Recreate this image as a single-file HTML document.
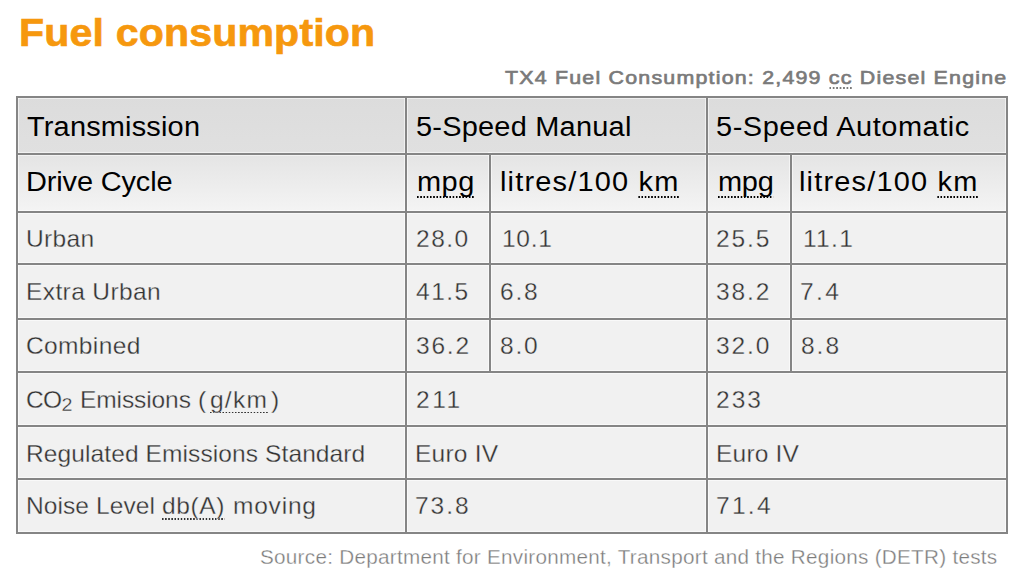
<!DOCTYPE html>
<html><head><meta charset="utf-8"><style>
html,body{margin:0;padding:0;background:#fff;width:1024px;height:582px;overflow:hidden;position:relative;font-family:"Liberation Sans",sans-serif;}
.t{position:absolute;white-space:nowrap;line-height:1;transform-origin:0 0;}
.ttl{color:#f6980e;font-weight:bold;-webkit-text-stroke:0.7px #f6980e;}
.sub{color:#7a7a7a;font-weight:normal;-webkit-text-stroke:0.65px #7a7a7a;}
.h{color:#000;}
.d{color:#333;-webkit-text-stroke:0.3px #f1f1f1;}
.src{color:#7c7c7c;-webkit-text-stroke:0.3px #fff;}
.bg{position:absolute;}
.ln{position:absolute;background:#858585;}
.hl{position:absolute;background:rgba(255,255,255,0.55);}
u{text-decoration:none;background-image:linear-gradient(90deg,currentColor 50%,transparent 50%);background-size:3px 1.5px;background-repeat:repeat-x;background-position:0 100%;padding-bottom:0.5px;}
sub{font-size:80%;vertical-align:-3px;line-height:0;}
</style></head><body>
<div class="bg" style="left:17.0px;top:97.0px;width:990.0px;height:57.0px;background:linear-gradient(#dcdcdc,#e0e0e0)"></div>
<div class="bg" style="left:17.0px;top:154.0px;width:990.0px;height:57.599999999999994px;background:linear-gradient(#e4e4e4,#f4f4f4)"></div>
<div class="bg" style="left:17.0px;top:211.6px;width:990.0px;height:321.1px;background:#f1f1f1"></div>
<div class="hl" style="left:15.0px;top:95.0px;width:994.0px;height:4px"></div>
<div class="hl" style="left:15.0px;top:152.0px;width:994.0px;height:4px"></div>
<div class="hl" style="left:15.0px;top:209.6px;width:994.0px;height:4px"></div>
<div class="hl" style="left:15.0px;top:262.4px;width:994.0px;height:4px"></div>
<div class="hl" style="left:15.0px;top:316.8px;width:994.0px;height:4px"></div>
<div class="hl" style="left:15.0px;top:369.7px;width:994.0px;height:4px"></div>
<div class="hl" style="left:15.0px;top:423.9px;width:994.0px;height:4px"></div>
<div class="hl" style="left:15.0px;top:476.8px;width:994.0px;height:4px"></div>
<div class="hl" style="left:15.0px;top:530.7px;width:994.0px;height:4px"></div>
<div class="hl" style="left:15.0px;top:95.0px;width:4px;height:439.7px"></div>
<div class="hl" style="left:403.5px;top:95.0px;width:4px;height:439.7px"></div>
<div class="hl" style="left:488.2px;top:152.0px;width:4px;height:221.7px"></div>
<div class="hl" style="left:704.6px;top:95.0px;width:4px;height:439.7px"></div>
<div class="hl" style="left:789.0px;top:152.0px;width:4px;height:221.7px"></div>
<div class="hl" style="left:1005.0px;top:95.0px;width:4px;height:439.7px"></div>
<div class="ln" style="left:16.0px;top:96.0px;width:992.0px;height:2px"></div>
<div class="ln" style="left:16.0px;top:153.0px;width:992.0px;height:2px"></div>
<div class="ln" style="left:16.0px;top:210.6px;width:992.0px;height:2px"></div>
<div class="ln" style="left:16.0px;top:263.4px;width:992.0px;height:2px"></div>
<div class="ln" style="left:16.0px;top:317.8px;width:992.0px;height:2px"></div>
<div class="ln" style="left:16.0px;top:370.7px;width:992.0px;height:2px"></div>
<div class="ln" style="left:16.0px;top:424.9px;width:992.0px;height:2px"></div>
<div class="ln" style="left:16.0px;top:477.8px;width:992.0px;height:2px"></div>
<div class="ln" style="left:16.0px;top:531.7px;width:992.0px;height:2px"></div>
<div class="ln" style="left:16.0px;top:96.0px;width:2px;height:437.7px"></div>
<div class="ln" style="left:404.5px;top:96.0px;width:2px;height:437.7px"></div>
<div class="ln" style="left:489.2px;top:153.0px;width:2px;height:219.7px"></div>
<div class="ln" style="left:705.6px;top:96.0px;width:2px;height:437.7px"></div>
<div class="ln" style="left:790.0px;top:153.0px;width:2px;height:219.7px"></div>
<div class="ln" style="left:1006.0px;top:96.0px;width:2px;height:437.7px"></div>
<div class="t ttl" style="left:19.40px;top:12.86px;font-size:39.5px;letter-spacing:0.154px;transform:scaleX(1.04)">Fuel consumption</div>
<div class="t sub" style="left:505.10px;top:69.06px;font-size:18.6px;letter-spacing:1.050px;transform:scaleX(1.15)">TX4 Fuel Consumption: 2,499 <u>cc</u> Diesel Engine</div>
<div class="t h" style="left:27.30px;top:113.61px;font-size:26.8px;letter-spacing:0.168px;transform:scaleX(1.08)">Transmission</div>
<div class="t h" style="left:416.24px;top:113.61px;font-size:26.8px;letter-spacing:0.211px;transform:scaleX(1.08)">5-Speed Manual</div>
<div class="t h" style="left:716.32px;top:113.61px;font-size:26.8px;letter-spacing:0.500px;transform:scaleX(1.08)">5-Speed Automatic</div>
<div class="t h" style="left:26.46px;top:169.21px;font-size:26.8px;letter-spacing:-0.126px;transform:scaleX(1.08)">Drive Cycle</div>
<div class="t h" style="left:417.04px;top:169.21px;font-size:26.8px;letter-spacing:0.444px;transform:scaleX(1.08)"><u>mpg</u></div>
<div class="t h" style="left:500.46px;top:169.21px;font-size:26.8px;letter-spacing:1.099px;transform:scaleX(1.08)">litres/100 <u>km</u></div>
<div class="t h" style="left:717.92px;top:169.21px;font-size:26.8px;letter-spacing:-0.259px;transform:scaleX(1.08)"><u>mpg</u></div>
<div class="t h" style="left:799.48px;top:169.21px;font-size:26.8px;letter-spacing:1.105px;transform:scaleX(1.08)">litres/100 <u>km</u></div>
<div class="t d" style="left:25.54px;top:228.22px;font-size:23.6px;letter-spacing:0.288px;transform:scaleX(1.04)">Urban</div>
<div class="t d" style="left:416.30px;top:228.22px;font-size:23.6px;letter-spacing:1.436px;transform:scaleX(1.04)">28.0</div>
<div class="t d" style="left:502.44px;top:228.22px;font-size:23.6px;letter-spacing:0.667px;transform:scaleX(1.04)">10.1</div>
<div class="t d" style="left:716.32px;top:228.22px;font-size:23.6px;letter-spacing:1.795px;transform:scaleX(1.04)">25.5</div>
<div class="t d" style="left:802.54px;top:228.22px;font-size:23.6px;letter-spacing:1.231px;transform:scaleX(1.04)">11.1</div>
<div class="t d" style="left:25.54px;top:281.22px;font-size:23.6px;letter-spacing:0.362px;transform:scaleX(1.04)">Extra Urban</div>
<div class="t d" style="left:416.30px;top:281.22px;font-size:23.6px;letter-spacing:1.436px;transform:scaleX(1.04)">41.5</div>
<div class="t d" style="left:500.36px;top:281.22px;font-size:23.6px;letter-spacing:1.692px;transform:scaleX(1.04)">6.8</div>
<div class="t d" style="left:716.32px;top:281.22px;font-size:23.6px;letter-spacing:1.795px;transform:scaleX(1.04)">38.2</div>
<div class="t d" style="left:800.46px;top:281.22px;font-size:23.6px;letter-spacing:2.269px;transform:scaleX(1.04)">7.4</div>
<div class="t d" style="left:26.34px;top:335.22px;font-size:23.6px;letter-spacing:0.341px;transform:scaleX(1.04)">Combined</div>
<div class="t d" style="left:416.30px;top:335.22px;font-size:23.6px;letter-spacing:1.692px;transform:scaleX(1.04)">36.2</div>
<div class="t d" style="left:500.36px;top:335.22px;font-size:23.6px;letter-spacing:1.692px;transform:scaleX(1.04)">8.0</div>
<div class="t d" style="left:716.32px;top:335.22px;font-size:23.6px;letter-spacing:1.795px;transform:scaleX(1.04)">32.0</div>
<div class="t d" style="left:801.26px;top:335.22px;font-size:23.6px;letter-spacing:1.885px;transform:scaleX(1.04)">8.8</div>
<div class="t d" style="left:26.36px;top:388.62px;font-size:23.6px;letter-spacing:-0.577px;transform:scaleX(1.04)">CO<sub>2</sub></div>
<div class="t d" style="left:80.44px;top:388.62px;font-size:23.6px;letter-spacing:-0.106px;transform:scaleX(1.04)">Emissions</div>
<div class="t d" style="left:197.54px;top:388.62px;font-size:23.6px;letter-spacing:0.000px;transform:scaleX(1.04)">(</div>
<div class="t d" style="left:210.06px;top:388.62px;font-size:23.6px;letter-spacing:1.179px;transform:scaleX(1.04)"><u>g/km</u></div>
<div class="t d" style="left:271.26px;top:388.62px;font-size:23.6px;letter-spacing:0.000px;transform:scaleX(1.04)">)</div>
<div class="t d" style="left:416.28px;top:388.62px;font-size:23.6px;letter-spacing:2.423px;transform:scaleX(1.04)">211</div>
<div class="t d" style="left:716.32px;top:388.62px;font-size:23.6px;letter-spacing:1.923px;transform:scaleX(1.04)">233</div>
<div class="t d" style="left:25.54px;top:442.72px;font-size:23.6px;letter-spacing:0.083px;transform:scaleX(1.04)">Regulated Emissions Standard</div>
<div class="t d" style="left:415.48px;top:442.72px;font-size:23.6px;letter-spacing:0.218px;transform:scaleX(1.04)">Euro IV</div>
<div class="t d" style="left:715.52px;top:442.72px;font-size:23.6px;letter-spacing:0.179px;transform:scaleX(1.04)">Euro IV</div>
<div class="t d" style="left:25.54px;top:495.42px;font-size:23.6px;letter-spacing:0.069px;transform:scaleX(1.04)">Noise Level</div>
<div class="t d" style="left:162.06px;top:495.42px;font-size:23.6px;letter-spacing:0.558px;transform:scaleX(1.04)"><u>db(A)</u></div>
<div class="t d" style="left:232.56px;top:495.42px;font-size:23.6px;letter-spacing:0.738px;transform:scaleX(1.04)">moving</div>
<div class="t d" style="left:415.48px;top:495.42px;font-size:23.6px;letter-spacing:1.872px;transform:scaleX(1.04)">73.8</div>
<div class="t d" style="left:715.52px;top:495.42px;font-size:23.6px;letter-spacing:2.179px;transform:scaleX(1.04)">71.4</div>
<div class="t src" style="left:260.34px;top:548.05px;font-size:19.9px;letter-spacing:0.260px;transform:scaleX(1.04)">Source: Department for Environment, Transport and the Regions (DETR) tests</div>
</body></html>
